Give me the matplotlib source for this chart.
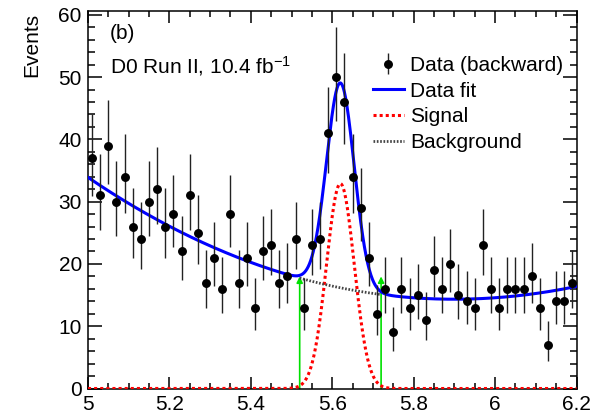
import numpy as np
import matplotlib
matplotlib.use("Agg")
import matplotlib.pyplot as plt
from matplotlib.ticker import MultipleLocator, FixedLocator

plt.rcParams["font.family"] = ["Liberation Sans", "DejaVu Sans"]
plt.rcParams["mathtext.fontset"] = "custom"
plt.rcParams["mathtext.rm"] = "Liberation Sans"
plt.rcParams["mathtext.it"] = "Liberation Sans:italic"

# Histogram binning (mass axis) and observed counts per bin
mass_lo, mass_hi, n_bins = 5.0, 6.2, 60
counts = [37, 31, 39, 30, 34, 26, 24, 30, 32, 26,
          28, 22, 31, 25, 17, 21, 16, 28, 17, 21,
          13, 22, 23, 17, 18, 24, 13, 23, 24, 41,
          50, 46, 34, 29, 21, 12, 16, 9, 16, 13,
          15, 11, 19, 16, 20, 15, 14, 13, 23, 16,
          13, 16, 16, 16, 18, 13, 7, 14, 14, 17]

# Fit parameters: Gaussian signal + cubic background in (m - 5)
sig_amp, sig_mean, sig_width = 32.9, 5.62, 0.034
bkg_coef = [33.9, -44.45, 26.3, -1.18]

# Signal window markers
window = [5.52, 5.72]
window_arrow_top = 18.0

x_ticks = [5.0, 5.2, 5.4, 5.6, 5.8, 6.0, 6.2]
x_tick_labels = ["5", "5.2", "5.4", "5.6", "5.8", "6", "6.2"]
y_ticks = [0, 10, 20, 30, 40, 50, 60]


def background(m):
    t = m - 5.0
    return sum(c * t ** k for k, c in enumerate(bkg_coef))


def signal(m):
    return sig_amp * np.exp(-0.5 * ((m - sig_mean) / sig_width) ** 2)


edges = np.linspace(mass_lo, mass_hi, n_bins + 1)
centers = 0.5 * (edges[:-1] + edges[1:])
n = np.asarray(counts, dtype=float)
# Poisson (Gehrels) asymmetric uncertainties
err_up = 1.0 + np.sqrt(n + 0.75)
err_lo = n - n * (1.0 - 1.0 / (9.0 * n) - 1.0 / (3.0 * np.sqrt(n))) ** 3

fig = plt.figure(figsize=(5.92, 4.17), dpi=100)
ax = fig.add_axes([88 / 592, 28.5 / 417, 488.5 / 592, 378 / 417])

m = np.linspace(mass_lo, mass_hi, 1201)
h_sig, = ax.plot(m, signal(m), color="#ff0000", lw=2.2, ls=(0, (1.0, 1.0)),
                 label="Signal", zorder=3)
bkg_mask = (m >= window[0]) & (m <= window[1])
h_bkg, = ax.plot(m[bkg_mask], background(m[bkg_mask]), color="#444444", lw=2.0,
                 ls=(0, (0.6, 0.6)), label="Background", zorder=3)
h_fit, = ax.plot(m, background(m) + signal(m), color="#0000ff", lw=2.2,
                 label="Data fit", zorder=4)

for xw in window:
    ax.annotate("", xy=(xw, window_arrow_top), xytext=(xw, 0),
                arrowprops=dict(arrowstyle="-|>", color="#00e000", lw=1.2,
                                mutation_scale=9, shrinkA=0, shrinkB=0),
                zorder=2)

h_data = ax.errorbar(centers, n, yerr=[err_lo, err_up], fmt="o", color="black",
                     ecolor="#222222", ms=5.4, elinewidth=1.0, capsize=0,
                     label="Data (backward)", zorder=5)

ax.set_xlim(mass_lo, mass_hi)
ax.set_ylim(0, 60.7)
ax.xaxis.set_major_locator(FixedLocator(x_ticks))
ax.set_xticklabels(x_tick_labels)
ax.xaxis.set_minor_locator(MultipleLocator(0.05))
ax.yaxis.set_major_locator(FixedLocator(y_ticks))
ax.yaxis.set_minor_locator(MultipleLocator(2))
ax.tick_params(axis="both", which="both", direction="in", top=True, right=True,
               labelsize=15, width=1.1)
ax.tick_params(axis="x", which="major", length=8.5, pad=4.5)
ax.tick_params(axis="x", which="minor", length=4.0)
ax.tick_params(axis="y", which="major", length=10, pad=4.5)
ax.tick_params(axis="y", which="minor", length=5)
for sp in ax.spines.values():
    sp.set_linewidth(1.1)

fig.text(32 / 592, 1 - 13 / 417, "Events", rotation=90, ha="center", va="top",
         fontsize=15)
ax.text(0.045, 0.9238, "(b)", transform=ax.transAxes, fontsize=15,
        ha="left", va="baseline")
ax.text(0.045, 0.8339, r"D0 Run II, 10.4 fb$^{\mathregular{-1}}$",
        transform=ax.transAxes, fontsize=15, ha="left", va="baseline")

ax.legend([h_data, h_fit, h_sig, h_bkg],
          ["Data (backward)", "Data fit", "Signal", "Background"],
          loc="upper left", bbox_to_anchor=(0.583, 0.880), frameon=False,
          borderpad=0, borderaxespad=0, handlelength=1.5, handletextpad=0.3,
          labelspacing=0.32, fontsize=15)

fig.savefig("out.png", dpi=100)
